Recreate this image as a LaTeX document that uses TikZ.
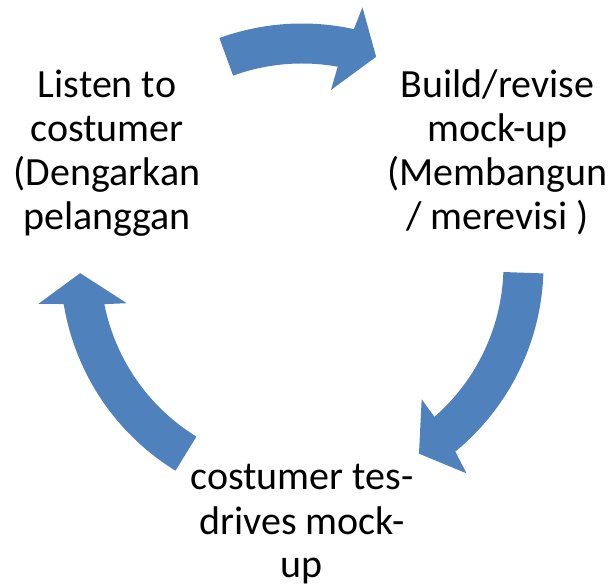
\documentclass[tikz,border=0pt]{standalone}
\usepackage{fontspec}
\setmainfont{Carlito}
\definecolor{arrowblue}{RGB}{79,129,189}
\begin{document}
\begin{tikzpicture}[x=1pt,y=1pt,
  arrowfill/.style={fill=arrowblue},
  label/.style={align=center,anchor=base,inner sep=0pt,font=\fontsize{40}{44}\selectfont}]
\useasboundingbox (0,0) rectangle (609,585);
\begin{scope}[shift={(302,320)}]
  % top arrow
  \fill[arrowfill] (110:241.5pt) arc[start angle=110,end angle=77.6,radius=241.5pt]
    -- (76.8:264.7pt) -- (70.4:221pt) -- (80.6:177.4pt) -- (79.8:201.5pt)
    arc[start angle=79.8,end angle=110,radius=201.5pt] -- cycle;
  % right arrow
  \fill[arrowfill] (-2:241.5pt) arc[start angle=-2,end angle=-50.6,radius=241.5pt]
    -- (-51.7:265.5pt) -- (-58.2:222pt) -- (-48.3:179.9pt) -- (-48.9:201.5pt)
    arc[start angle=-48.9,end angle=-2,radius=201.5pt] -- cycle;
  % left arrow
  \fill[arrowfill] (238.4:241.5pt) arc[start angle=238.4,end angle=189.3,radius=241.5pt]
    -- (188.4:266.6pt) -- (182.1:222pt) -- (192.3:179.4pt) -- (191.2:201.5pt)
    arc[start angle=191.2,end angle=238.4,radius=201.5pt] -- cycle;
\end{scope}
\node[label] (listen) at (107,355) {Listen to\\costumer\\(Dengarkan\\pelanggan};
\node[label] (build) at (497.5,355) {Build/revise\\mock-up\\(Membangun\\/ merevisi )};
\node[label] (test) at (302,7) {costumer tes-\\drives mock-\\up};
\end{tikzpicture}
\end{document}
